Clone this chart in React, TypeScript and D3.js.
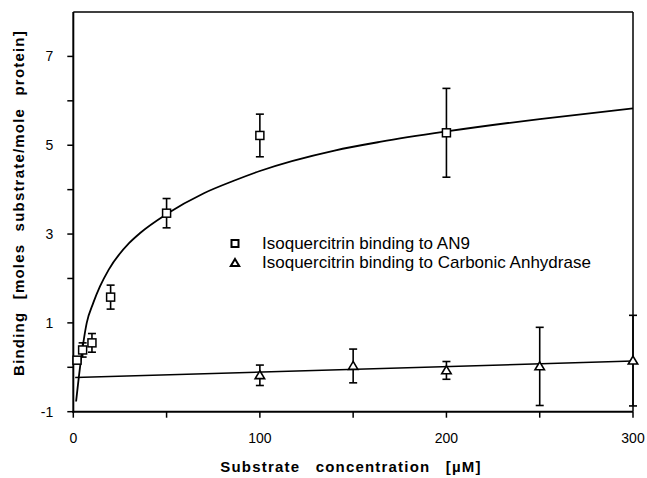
import React from "react";
import * as d3 from "d3";

// AN9 (squares)
const an9X = [2, 5, 10, 20, 50, 100, 200];
const an9Y = [0.16, 0.39, 0.55, 1.58, 3.47, 5.22, 5.28];
const an9Err = [0, 0.16, 0.21, 0.27, 0.33, 0.48, 1.0];

// Carbonic anhydrase (triangles)
const caX = [100, 150, 200, 250, 300];
const caY = [-0.18, 0.03, -0.07, 0.02, 0.15];
const caErr = [0.23, 0.38, 0.2, 0.88, 1.02];

// Fitted curve
const fitX = [1.5, 3.6, 7.2, 10.7, 14.3, 19, 30, 36, 50, 70, 86, 100, 140, 165, 200, 250, 300];
const fitY = [-0.77, 0.0, 1.0, 1.45, 1.82, 2.2, 2.8, 3.03, 3.45, 3.92, 4.2, 4.42, 4.88, 5.08, 5.31, 5.59, 5.83];

// Linear fit for CA
const lineX = [1, 300];
const lineY = [-0.23, 0.14];

const xTicks = [0, 50, 100, 150, 200, 250, 300];
const xTickLabels = ["0", "", "100", "", "200", "", "300"];
const yTicks = [-1, 0, 1, 2, 3, 4, 5, 6, 7];
const yTickLabels = ["-1", "", "1", "", "3", "", "5", "", "7"];

const legendLabels = ["Isoquercitrin binding to AN9", "Isoquercitrin binding to Carbonic Anhydrase"];

const W = 647;
const H = 478;
const FONT = "'Liberation Sans', Arial, Helvetica, sans-serif";

export default function App() {
  const x = d3.scaleLinear().domain([0, 300]).range([73.3, 633]);
  const y = d3.scaleLinear().domain([-1, 8]).range([411.7, 12]);

  const fitLine = d3
    .line<number>()
    .x((_, i) => x(fitX[i]))
    .y((_, i) => y(fitY[i]))
    .curve(d3.curveMonotoneX);
  const caLine = d3
    .line<number>()
    .x((_, i) => x(lineX[i]))
    .y((_, i) => y(lineY[i]));

  const cap = 4;
  const sq = 4;
  const tri = (cx: number, cy: number, s: number) =>
    `M${cx},${cy - s} L${cx + s * 1.05},${cy + s * 0.75} L${cx - s * 1.05},${cy + s * 0.75} Z`;

  const errBar = (xv: number, yv: number, e: number, key: string) =>
    e > 0 ? (
      <g key={key} stroke="#000" strokeWidth={1.6}>
        <line x1={x(xv)} x2={x(xv)} y1={y(yv + e)} y2={y(yv - e)} />
        <line x1={x(xv) - cap} x2={x(xv) + cap} y1={y(yv + e)} y2={y(yv + e)} />
        <line x1={x(xv) - cap} x2={x(xv) + cap} y1={y(yv - e)} y2={y(yv - e)} />
      </g>
    ) : null;

  return (
    <svg
      width={W}
      height={H}
      style={{ position: "absolute", left: 0, top: 0, background: "#fff" }}
      fontFamily={FONT}
    >
      <rect x={0} y={0} width={W} height={H} fill="#fff" />
      {/* frame */}
      <line x1={x(0)} x2={x(300)} y1={y(8)} y2={y(8)} stroke="#000" strokeWidth={1.5} />
      <line x1={x(300)} x2={x(300)} y1={y(8)} y2={y(-1)} stroke="#000" strokeWidth={1.5} />
      <line x1={x(0)} x2={x(0)} y1={y(8)} y2={y(-1) + 1} stroke="#000" strokeWidth={2} />
      <line x1={x(0) - 1} x2={x(300)} y1={y(-1)} y2={y(-1)} stroke="#000" strokeWidth={2} />

      {/* x ticks */}
      {xTicks.map((t, i) => (
        <g key={"xt" + t}>
          <line x1={x(t)} x2={x(t)} y1={y(-1)} y2={y(-1) + 6} stroke="#000" strokeWidth={1.5} />
          {xTickLabels[i] && (
            <text x={x(t)} y={y(-1) + 31} textAnchor="middle" fontSize={14} fill="#000">
              {xTickLabels[i]}
            </text>
          )}
        </g>
      ))}
      {/* y ticks */}
      {yTicks.map((t, i) => (
        <g key={"yt" + t}>
          <line x1={x(0) - 6} x2={x(0)} y1={y(t)} y2={y(t)} stroke="#000" strokeWidth={1.5} />
          {yTickLabels[i] && (
            <text x={x(0) - 20} y={y(t) + 5} textAnchor="end" fontSize={14} fill="#000">
              {yTickLabels[i]}
            </text>
          )}
        </g>
      ))}

      {/* axis titles */}
      <text
        x={351}
        y={472}
        textAnchor="middle"
        fontSize={15}
        fontWeight="bold"
        letterSpacing={1.2}
        wordSpacing={10}
        fill="#000"
      >
        Substrate concentration [µM]
      </text>
      <text
        transform={`translate(24,203) rotate(-90)`}
        textAnchor="middle"
        fontSize={15}
        fontWeight="bold"
        letterSpacing={1.2}
        wordSpacing={7}
        fill="#000"
      >
        Binding [moles substrate/mole protein]
      </text>

      {/* fits */}
      <path d={fitLine(fitX) || ""} fill="none" stroke="#000" strokeWidth={1.8} />
      <path d={caLine(lineX) || ""} fill="none" stroke="#000" strokeWidth={1.5} />

      {/* error bars */}
      {an9X.map((v, i) => errBar(v, an9Y[i], an9Err[i], "ae" + i))}
      {caX.map((v, i) => errBar(v, caY[i], caErr[i], "ce" + i))}

      {/* markers */}
      {an9X.map((v, i) => (
        <rect
          key={"as" + i}
          x={x(v) - sq}
          y={y(an9Y[i]) - sq}
          width={sq * 2}
          height={sq * 2}
          fill="#fff"
          stroke="#000"
          strokeWidth={1.5}
        />
      ))}
      {caX.map((v, i) => (
        <path key={"ct" + i} d={tri(x(v), y(caY[i]), 4.5)} fill="#fff" stroke="#000" strokeWidth={1.6} />
      ))}

      {/* legend */}
      <rect x={235 - 3.5} y={243.5 - 3.5} width={7} height={7} fill="#fff" stroke="#000" strokeWidth={2} />
      <text x={262} y={249} fontSize={17} fill="#000">
        {legendLabels[0]}
      </text>
      <path d={tri(235, 263, 4)} fill="#fff" stroke="#000" strokeWidth={2} />
      <text x={262} y={268} fontSize={17} fill="#000">
        {legendLabels[1]}
      </text>
    </svg>
  );
}
